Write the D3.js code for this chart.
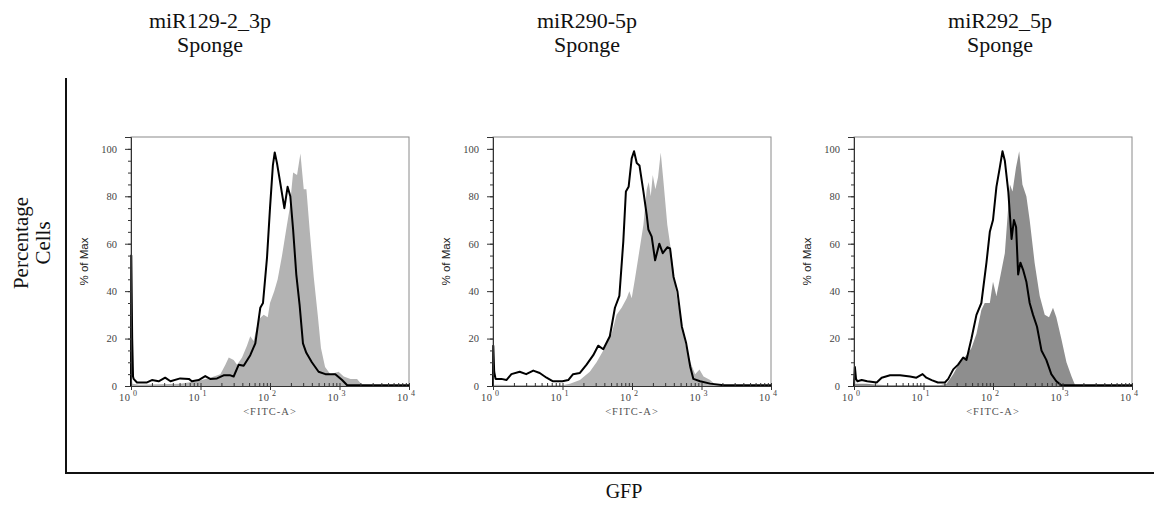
<!DOCTYPE html>
<html>
<head>
<meta charset="utf-8">
<script src="https://cdn.jsdelivr.net/npm/d3@7"></script>
<style>
  html, body { margin: 0; padding: 0; background: #fff; }
  svg { display: block; }
</style>
</head>
<body>
<svg id="chart"></svg>
<script>
// panel titles (two lines each)
const titles = [
    ["miR129-2_3p", "Sponge"],
    ["miR290-5p", "Sponge"],
    ["miR292_5p", "Sponge"]
];
const yTicks = [0, 20, 40, 60, 80, 100];
const xTicks = [1, 10, 100, 1000, 10000];
const xTickExp = ["0", "1", "2", "3", "4"];

// [FITC intensity, % of max]  -- shaded control histograms
const fill1 = [[1,0],[1.01,6],[1.05,1],[1.3,0.5],[5.1,1],[8.9,2],[13.8,3.5],[19.3,5],[22.8,9],[25.5,12],[30,11],[33.6,9],[39.6,12],[46.6,17],[52,21],[58,19],[68.6,28],[81,30],[92.8,29],[100,35],[115,40],[129,45],[149,55],[171,66],[192,75],[215,90],[245,89],[274,98],[306,83],[334,83],[374,65],[426,46],[486,30],[541,16],[620,8],[739,5],[970,6],[1150,4],[1440,3],[1790,3],[2100,0.5],[10000,0]];
const fill2 = [[1,0],[1.05,0.5],[10,0.3],[12.8,1],[17.8,2.5],[24.7,6],[30.9,10],[38.6,15],[50.9,22],[60,30],[70.9,33],[84,37],[91.6,40],[99,37],[110,45],[123,54],[146,68],[163,83],[174,86],[186,80],[199,89],[217,83],[237,88],[259,98.5],[284,86],[322,68],[373,55],[429,40],[494,30],[580,18],[690,10],[810,5],[935,7],[1070,4],[1330,2.5],[1580,0.5],[10000,0]];
const fill3 = [[1,0],[1.05,1],[1.5,1],[2,0.6],[3,0.3],[17.2,0.3],[21.5,1],[26.8,5],[33.2,10],[41.5,13],[49,16],[57.8,22],[68,32],[76,35],[90,35],[100,44],[112,38],[125,45],[148,56],[175,85],[191,82],[214,92],[238,99],[265,85],[302,80],[337,70],[397,52],[470,38],[555,30],[640,29],[730,33],[815,29],[960,20],[1140,10],[1350,4],[1510,0.5],[10000,0]];

// [FITC intensity, % of max]  -- sponge histograms (black outline)
const line1 = [[1,0],[1.01,55],[1.04,20],[1.07,4],[1.09,3],[1.22,1.5],[1.7,1.5],[2,2.5],[2.5,2],[3.1,3.5],[3.7,2],[5.1,3.2],[6.8,3],[7.5,2],[9.4,2.5],[11.7,4.2],[13.8,3],[17.3,3.2],[21.5,4.5],[26.9,4.5],[30,4],[35.5,9],[41.8,8.5],[52,13],[61.5,18],[72.5,33],[79.3,35],[90.5,54],[100,75],[110,93],[117,98.5],[126,94],[138,87],[161,75],[179,84],[196,80],[215,66],[239,47],[267,34],[298,18],[333,14],[400,10],[500,6],[627,5],[870,5],[1090,2.5],[1290,0.3],[10000,0.3]];
const line2 = [[1,0],[1.01,17],[1.04,6],[1.09,3],[1.32,3],[1.56,2.5],[1.84,5],[2.42,6],[3,5],[3.8,6.5],[4.7,5.5],[5.9,3.5],[7.3,2],[10,2],[12.1,2.5],[14.2,5],[17.8,5.5],[22.2,9],[27.7,13],[32.6,17],[38.6,15.5],[48,21],[56.8,33],[65.8,38],[75,61],[81.7,82],[89.4,84],[99,96],[107,99],[117,94],[128,93],[146,82],[163,72],[172,66],[192,63],[215,53],[247,60],[277,56],[322,58.5],[353,58],[396,46],[450,40],[522,25],[602,18],[690,8],[764,3],[955,2],[1330,1],[2090,0.3],[10000,0.3]];
const line3 = [[1,0],[1.03,8],[1.07,3],[1.12,2],[1.29,2.5],[1.55,2],[2.12,1.5],[2.5,3.5],[3.3,4.5],[4.6,4.5],[6.4,4],[7.9,3.5],[9.7,5],[11,3.5],[13.1,2.5],[16.1,1.5],[20.3,1.5],[22.7,3],[26.8,7],[31.5,9],[37.2,12],[41.5,11],[49,20],[57.8,30],[68,35],[80.5,52],[90,65],[100,70],[112,84],[125,92],[137,99],[148,95],[166,82],[185,62],[200,70],[215,67],[230,47],[248,52],[271,49],[302,44],[337,35],[377,30],[430,25],[498,15],[585,11],[690,5],[815,2],[960,0.3],[10000,0.3]];

const fills = [fill1, fill2, fill3];
const lines = [line1, line2, line3];
const fillColors = ["#b3b3b3", "#b3b3b3", "#8e8e8e"];

const W = 1154, H = 507;
const panelLeft = [131, 493, 854];
const titleX = [210, 587, 1000];
const panelTop = 137, pw = 278, ph = 249;

const svg = d3.select("#chart").attr("width", W).attr("height", H);
svg.append("rect").attr("width", W).attr("height", H).attr("fill", "#fff");

const x = d3.scaleLog().domain([1, 10000]).range([0, pw]);
const y = d3.scaleLinear().domain([0, 105]).range([ph, 0]);

// outer axes
svg.append("line").attr("x1", 66).attr("x2", 66).attr("y1", 78).attr("y2", 474)
    .attr("stroke", "#111").attr("stroke-width", 2);
svg.append("line").attr("x1", 65).attr("x2", W).attr("y1", 473).attr("y2", 473)
    .attr("stroke", "#111").attr("stroke-width", 2);

const serif = "'Liberation Serif', 'Times New Roman', serif";

svg.append("text").attr("x", 624).attr("y", 498).attr("text-anchor", "middle")
    .attr("font-family", serif).attr("font-size", 20).attr("fill", "#111").text("GFP");

const yTitle = svg.append("text").attr("transform", "translate(28,243) rotate(-90)")
    .attr("text-anchor", "middle").attr("font-family", serif).attr("font-size", 21).attr("fill", "#111");
yTitle.append("tspan").attr("x", 0).attr("y", 0).text("Percentage");
yTitle.append("tspan").attr("x", 0).attr("y", 22).text("Cells");

titles.forEach((t, i) => {
    const tt = svg.append("text").attr("text-anchor", "middle")
        .attr("font-family", serif).attr("font-size", 22).attr("fill", "#111");
    tt.append("tspan").attr("x", titleX[i]).attr("y", 28).text(t[0]);
    tt.append("tspan").attr("x", titleX[i]).attr("y", 52).text(t[1]);
});

const area = d3.area().x(d => x(d[0])).y0(y(0)).y1(d => y(d[1]));
const line = d3.line().x(d => x(d[0])).y(d => y(d[1]));

panelLeft.forEach((px, i) => {
    const g = svg.append("g").attr("transform", `translate(${px},${panelTop})`);

    g.append("rect").attr("width", pw).attr("height", ph)
        .attr("fill", "none").attr("stroke", "#8a8a8a").attr("stroke-width", 1);

    g.append("path").datum(fills[i]).attr("d", area).attr("fill", fillColors[i]);
    g.append("path").datum(lines[i]).attr("d", line)
        .attr("fill", "none").attr("stroke", "#000").attr("stroke-width", 2)
        .attr("stroke-linejoin", "round");

    // y axis: minor every 5, major every 20
    g.append("g").call(d3.axisLeft(y).tickValues(d3.range(0, 101, 5)).tickSize(3).tickFormat(""))
        .call(s => s.select(".domain").remove())
        .selectAll("line").attr("stroke", "#333");
    const ya = g.append("g").call(d3.axisLeft(y).tickValues(yTicks).tickSize(6).tickPadding(8));
    ya.select(".domain").attr("stroke", "#333");
    ya.selectAll("line").attr("stroke", "#333");
    ya.selectAll("text").attr("font-family", serif).attr("font-size", 10.5).attr("fill", "#444");

    g.append("text").attr("transform", `translate(-43,${ph / 2}) rotate(-90)`)
        .attr("text-anchor", "middle").attr("font-family", "'Liberation Sans', Arial, sans-serif")
        .attr("font-size", 11.5).attr("fill", "#222").text("% of Max");

    // x axis: log decades with inward minor ticks
    const minor = [];
    for (let d = 1; d < 10000; d *= 10) for (let k = 2; k < 10; k++) minor.push(d * k);
    g.append("g").attr("transform", `translate(0,${ph})`)
        .call(d3.axisTop(x).tickValues(minor).tickSize(3).tickFormat(""))
        .call(s => s.select(".domain").remove())
        .selectAll("line").attr("stroke", "#333");
    const xa = g.append("g").attr("transform", `translate(0,${ph})`)
        .call(d3.axisBottom(x).tickValues(xTicks).tickSize(4).tickFormat(() => "10"));
    xa.select(".domain").attr("stroke", "#333");
    xa.selectAll("line").attr("stroke", "#333").attr("y1", -3);
    xa.selectAll(".tick text").attr("text-anchor", "end").attr("x", -1).attr("y", 15).attr("dy", 0)
        .attr("font-family", serif).attr("font-size", 10.5).attr("letter-spacing", 0.5).attr("fill", "#444");
    xa.selectAll(".tick").append("text").attr("x", 3.5).attr("y", 9.5)
        .attr("font-family", serif).attr("font-size", 8).attr("fill", "#444")
        .text((d, j) => xTickExp[j]);

    g.append("text").attr("x", pw / 2).attr("y", ph + 29).attr("text-anchor", "middle")
        .attr("font-family", serif).attr("font-size", 10.5).attr("letter-spacing", 1)
        .attr("fill", "#555").text("<FITC-A>");
});
</script>
</body>
</html>
